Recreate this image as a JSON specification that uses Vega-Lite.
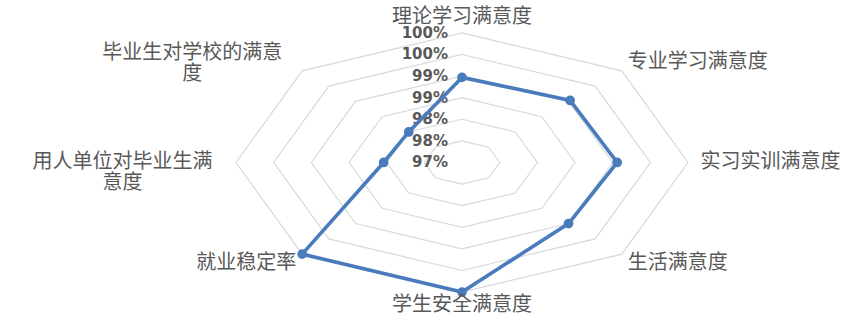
{
  "$schema": "https://vega.github.io/schema/vega-lite/v6.json",
  "width": 866,
  "height": 316,
  "autosize": {"type": "fit", "contains": "padding"},
  "padding": 0,
  "background": "white",
  "config": {"view": {"stroke": null}},
  "datasets": {
    "scores": [
      {"idx": 0, "name": "理论学习满意度", "label": "理论学习满意度", "value": 98.97},
      {"idx": 1, "name": "专业学习满意度", "label": "专业学习满意度", "value": 99.03},
      {"idx": 2, "name": "实习实训满意度", "label": "实习实训满意度", "value": 99.06},
      {"idx": 3, "name": "生活满意度", "label": "生活满意度", "value": 99.0},
      {"idx": 4, "name": "学生安全满意度", "label": "学生安全满意度", "value": 100.0},
      {"idx": 5, "name": "就业稳定率", "label": "就业稳定率", "value": 100.0},
      {"idx": 6, "name": "用人单位对毕业生满意度", "label": "用人单位对毕业生满\n意度", "value": 98.04},
      {"idx": 7, "name": "毕业生对学校的满意度", "label": "毕业生对学校的满意\n度", "value": 98.0}
    ],
    "levels": [
      {"level": 97.0, "label": "97%", "k": [0, 1, 2, 3, 4, 5, 6, 7]},
      {"level": 97.5, "label": "98%", "k": [0, 1, 2, 3, 4, 5, 6, 7]},
      {"level": 98.0, "label": "98%", "k": [0, 1, 2, 3, 4, 5, 6, 7]},
      {"level": 98.5, "label": "99%", "k": [0, 1, 2, 3, 4, 5, 6, 7]},
      {"level": 99.0, "label": "99%", "k": [0, 1, 2, 3, 4, 5, 6, 7]},
      {"level": 99.5, "label": "100%", "k": [0, 1, 2, 3, 4, 5, 6, 7]},
      {"level": 100.0, "label": "100%", "k": [0, 1, 2, 3, 4, 5, 6, 7]}
    ]
  },
  "layer": [
    {
      "data": {"name": "levels"},
      "transform": [
        {"filter": "datum.level > 97"},
        {"flatten": ["k"]},
        {"calculate": "(datum.level - 97) / 3", "as": "r"},
        {"calculate": "datum.r * sin(datum.k * PI / 4)", "as": "x"},
        {"calculate": "datum.r * cos(datum.k * PI / 4)", "as": "y"}
      ],
      "mark": {"type": "line", "interpolate": "linear-closed", "color": "#d9d9d9", "strokeWidth": 1.2},
      "encoding": {
        "x": {"field": "x", "type": "quantitative", "scale": {"domain": [-2.0442, 1.7876], "nice": false, "zero": false}, "axis": null},
        "y": {"field": "y", "type": "quantitative", "scale": {"domain": [-1.1769, 1.2538], "nice": false, "zero": false}, "axis": null},
        "detail": {"field": "level", "type": "nominal"},
        "order": {"field": "k", "type": "quantitative"}
      }
    },
    {
      "data": {"name": "levels"},
      "transform": [
        {"calculate": "(datum.level - 97) / 3", "as": "y"},
        {"calculate": "0", "as": "x"}
      ],
      "mark": {"type": "text", "align": "right", "baseline": "middle", "dx": -14, "font": "DejaVu Sans", "fontSize": 15, "fontWeight": "bold", "color": "#595959"},
      "encoding": {
        "x": {"field": "x", "type": "quantitative", "scale": {"domain": [-2.0442, 1.7876], "nice": false, "zero": false}, "axis": null},
        "y": {"field": "y", "type": "quantitative", "scale": {"domain": [-1.1769, 1.2538], "nice": false, "zero": false}, "axis": null},
        "text": {"field": "label"}
      }
    },
    {
      "data": {"name": "scores"},
      "transform": [
        {"calculate": "(datum.value - 97) / 3", "as": "r"},
        {"calculate": "datum.r * sin(datum.idx * PI / 4)", "as": "x"},
        {"calculate": "datum.r * cos(datum.idx * PI / 4)", "as": "y"}
      ],
      "layer": [
        {
          "mark": {"type": "line", "interpolate": "linear-closed", "color": "#4a7bbd", "strokeWidth": 3.6},
          "encoding": {
            "x": {"field": "x", "type": "quantitative", "scale": {"domain": [-2.0442, 1.7876], "nice": false, "zero": false}, "axis": null},
            "y": {"field": "y", "type": "quantitative", "scale": {"domain": [-1.1769, 1.2538], "nice": false, "zero": false}, "axis": null},
            "order": {"field": "idx", "type": "quantitative"}
          }
        },
        {
          "mark": {"type": "point", "shape": "circle", "filled": true, "opacity": 1, "color": "#4a7bbd", "size": 95},
          "encoding": {
            "x": {"field": "x", "type": "quantitative", "scale": {"domain": [-2.0442, 1.7876], "nice": false, "zero": false}, "axis": null},
            "y": {"field": "y", "type": "quantitative", "scale": {"domain": [-1.1769, 1.2538], "nice": false, "zero": false}, "axis": null}
          }
        }
      ]
    },
    {
      "data": {"name": "scores"},
      "transform": [
        {"calculate": "datum.idx * PI / 4", "as": "a"},
        {"calculate": "1.1 * sin(datum.a)", "as": "x"},
        {"calculate": "1.1 * cos(datum.a)", "as": "y"}
      ],
      "encoding": {
        "x": {"field": "x", "type": "quantitative", "scale": {"domain": [-2.0442, 1.7876], "nice": false, "zero": false}, "axis": null},
        "y": {"field": "y", "type": "quantitative", "scale": {"domain": [-1.1769, 1.2538], "nice": false, "zero": false}, "axis": null},
        "text": {"field": "label"}
      },
      "layer": [
        {
          "transform": [{"filter": "datum.idx == 0"}],
          "mark": {"type": "text", "align": "center", "baseline": "middle", "dy": -3, "font": "Noto Sans CJK SC", "fontSize": 20, "color": "#595959"}
        },
        {
          "transform": [{"filter": "datum.idx == 4"}],
          "mark": {"type": "text", "align": "center", "baseline": "middle", "font": "Noto Sans CJK SC", "fontSize": 20, "color": "#595959"}
        },
        {
          "transform": [{"filter": "datum.idx >= 1 && datum.idx <= 3"}],
          "mark": {"type": "text", "align": "left", "baseline": "middle", "dx": -10, "font": "Noto Sans CJK SC", "fontSize": 20, "color": "#595959"}
        },
        {
          "transform": [{"filter": "datum.idx == 5"}],
          "mark": {"type": "text", "align": "right", "baseline": "middle", "dx": 10, "font": "Noto Sans CJK SC", "fontSize": 20, "color": "#595959"}
        },
        {
          "transform": [{"filter": "datum.idx == 6"}],
          "mark": {"type": "text", "align": "center", "baseline": "middle", "dx": -91, "lineBreak": "\n", "lineHeight": 21, "font": "Noto Sans CJK SC", "fontSize": 20, "color": "#595959"}
        },
        {
          "transform": [{"filter": "datum.idx == 7"}],
          "mark": {"type": "text", "align": "center", "baseline": "middle", "dx": -94, "dy": -9, "lineBreak": "\n", "lineHeight": 21, "font": "Noto Sans CJK SC", "fontSize": 20, "color": "#595959"}
        }
      ]
    }
  ]
}
